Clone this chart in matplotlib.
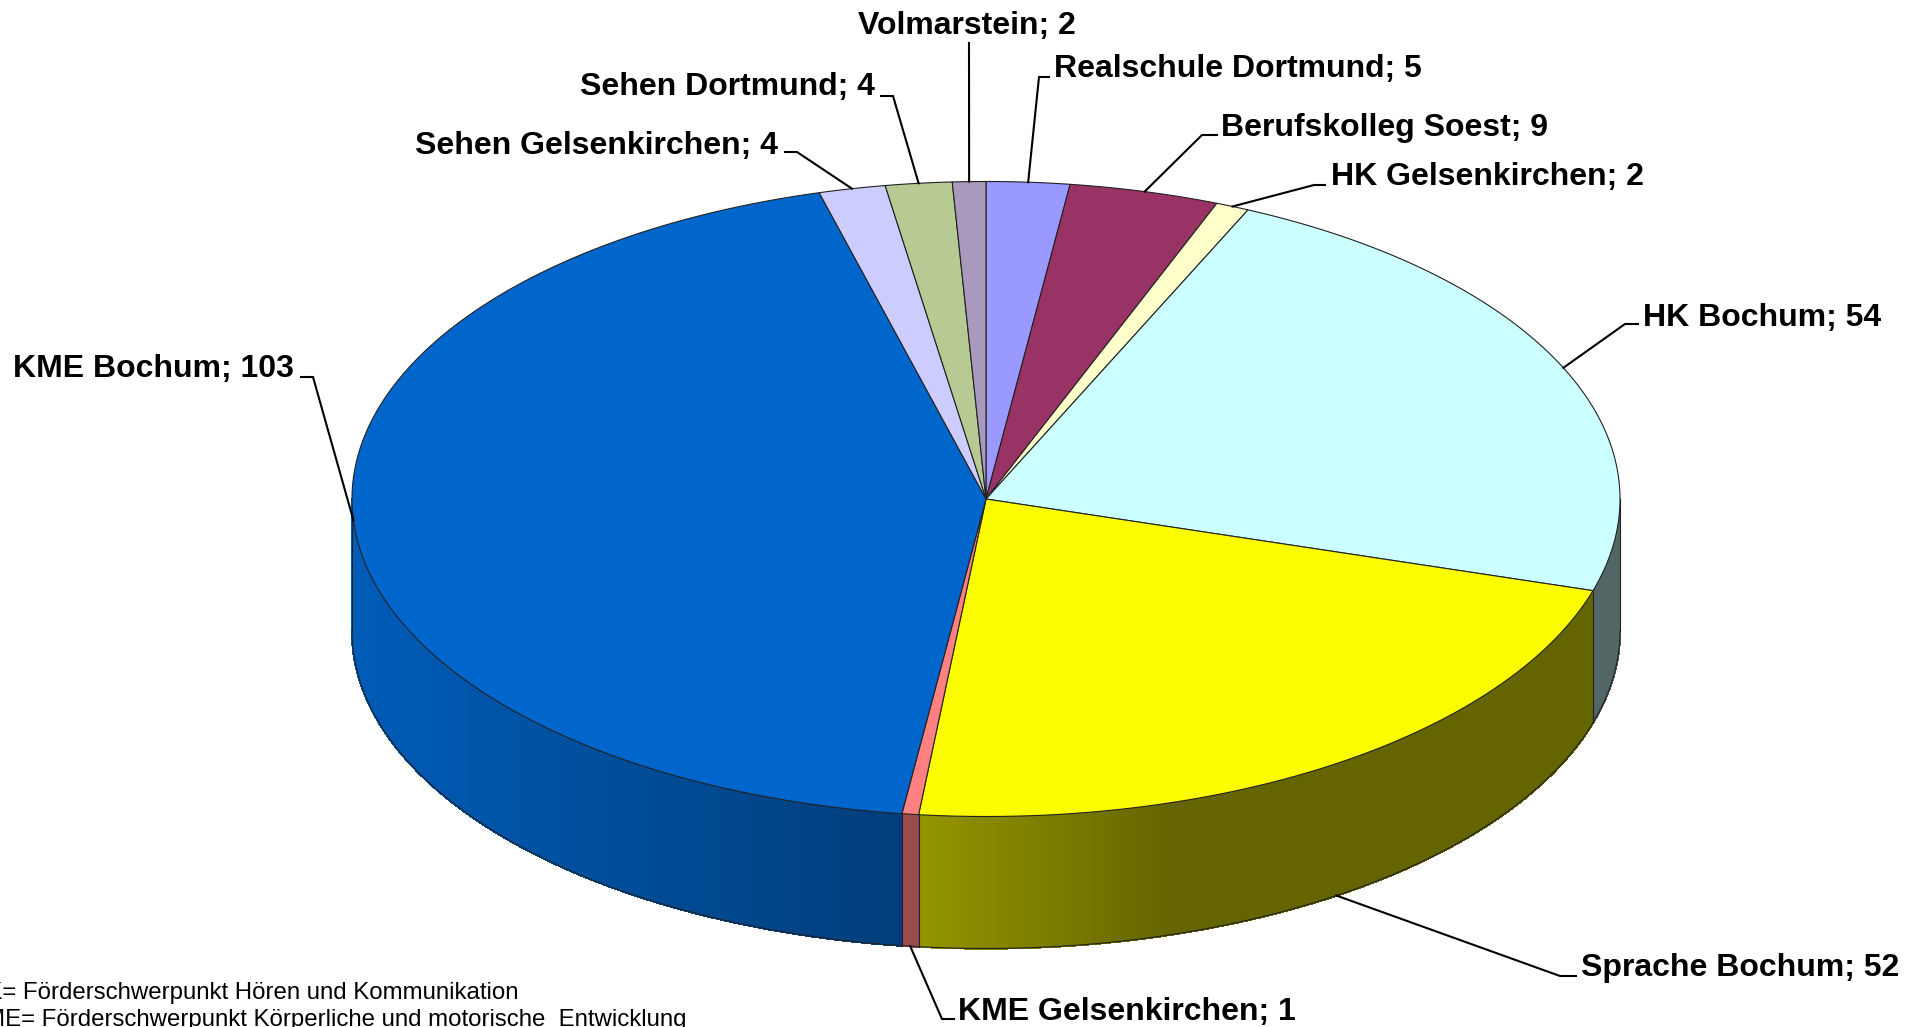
import numpy as np
import matplotlib
matplotlib.use("Agg")
import matplotlib.pyplot as plt
from matplotlib.collections import PolyCollection

plt.rcParams['font.family'] = ['Liberation Sans', 'DejaVu Sans']

# clockwise from 12 o'clock
names = ["Realschule Dortmund", "Berufskolleg Soest", "HK Gelsenkirchen", "HK Bochum",
         "Sprache Bochum", "KME Gelsenkirchen", "KME Bochum", "Sehen Gelsenkirchen",
         "Sehen Dortmund", "Volmarstein"]
values = [5, 9, 2, 54, 52, 1, 103, 4, 4, 2]
colors = ["#9999FF", "#993366", "#FFFFCC", "#CCFFFF", "#FCFC00",
          "#FF8080", "#0066CC", "#CCCCFF", "#B7CA94", "#A899BD"]

# pie geometry in pixels
CX, CY = 986, 499
RX, RY = 634, 317.5
DEPTH = 132

# label layout: text x, text y, alignment, elbow x, dash end x, on the lower rim
label_pos = [
    (1054, 69, "left", 1039, 1049, False),
    (1221, 128, "left", 1202, 1217, False),
    (1331, 177, "left", 1314, 1325, False),
    (1643, 318, "left", 1625, 1638, False),
    (1581, 968, "left", 1560, 1576, True),
    (958, 1012, "left", 942, 954, True),
    (294, 369, "right", 313, 301, False),
    (778, 146, "right", 797, 785, False),
    (875, 87, "right", 893, 881, False),
    (967, 26, "center", 969, 969, False),
]
label_elbow_y = [77, 135, 185, 324, 976, 1019, 377, 152, 96, 43]

legend_lines = ["HK= Förderschwerpunkt Hören und Kommunikation",
                "KME= Förderschwerpunkt Körperliche und motorische  Entwicklung"]

# x position -> brightness of the pie's side wall
shade_x = [352, 905, 1170, 1621]
shade_f = [0.90, 0.60, 0.40, 0.40]


def rim(deg):
    a = np.radians(deg)
    return CX + RX * np.sin(a), CY - RY * np.cos(a)


fig = plt.figure(figsize=(19.11, 10.27), dpi=100)
ax = fig.add_axes([0, 0, 1, 1])
ax.set_xlim(0, 1911)
ax.set_ylim(1027, 0)
ax.axis("off")

edges = np.concatenate([[0], np.cumsum(values)]) * 360.0 / sum(values)
rgb = [np.array(matplotlib.colors.to_rgb(c)) for c in colors]

# side wall, only the part facing us
quads, quad_colors = [], []
for i in range(len(values)):
    a0, a1 = max(edges[i], 90), min(edges[i + 1], 270)
    if a1 <= a0:
        continue
    steps = np.linspace(a0, a1, max(2, int((a1 - a0) * 3) + 1))
    for s0, s1 in zip(steps[:-1], steps[1:]):
        x0, y0 = rim(s0)
        x1, y1 = rim(s1)
        quads.append([(x0, y0), (x1, y1), (x1, y1 + DEPTH), (x0, y0 + DEPTH)])
        quad_colors.append(rgb[i] * np.interp((x0 + x1) / 2, shade_x, shade_f))
ax.add_collection(PolyCollection(quads, facecolors=quad_colors, edgecolors=quad_colors,
                                 linewidths=1.0, antialiaseds=False, zorder=1))

# outline of the side wall
front = np.linspace(90, 270, 361)
fx, fy = rim(front)
ax.plot(fx, fy + DEPTH, color="#222222", lw=0.8, zorder=2)
for e in list(edges[1:-1]) + [90, 270]:
    if 90 <= e <= 270:
        x, y = rim(e)
        ax.plot([x, x], [y, y + DEPTH], color="#222222", lw=0.8, zorder=2)

# top face
for i in range(len(values)):
    t = np.linspace(edges[i], edges[i + 1], 200)
    x, y = rim(t)
    ax.fill(np.r_[CX, x], np.r_[CY, y], facecolor=colors[i], edgecolor="#222222", lw=0.8, zorder=3)

# labels with leader lines
for i, (tx, ty, ha, ex, sx, lower) in enumerate(label_pos):
    mid = (edges[i] + edges[i + 1]) / 2
    x, y = rim(mid)
    if lower:
        y = y + DEPTH
    ey = label_elbow_y[i]
    ax.plot([sx, ex, x], [ey, ey, y], color="black", lw=1.5, zorder=4, solid_joinstyle="miter")
    ax.text(tx, ty, "%s; %d" % (names[i], values[i]), ha=ha, va="center",
            fontsize=23, fontweight="bold", color="black", zorder=5)

ax.text(-31, 993, legend_lines[0], fontsize=17.3, ha="left", va="center", color="black")
ax.text(-31, 1020, legend_lines[1], fontsize=17.3, ha="left", va="center", color="black")

fig.savefig("out.png", dpi=100)
